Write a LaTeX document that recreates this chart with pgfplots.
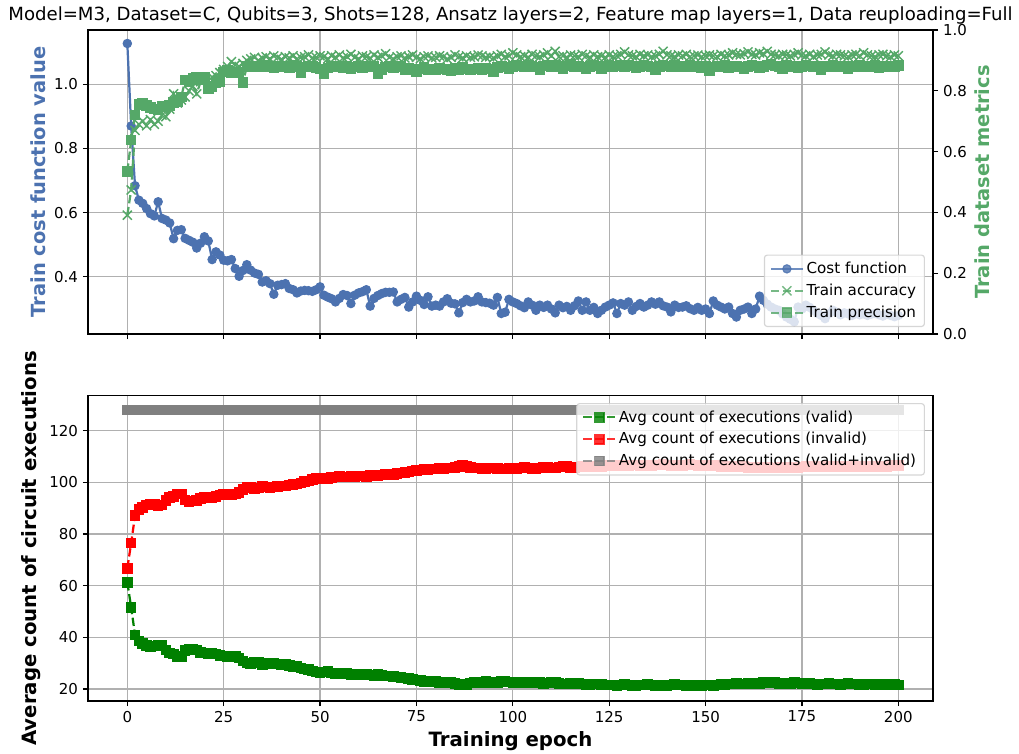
\documentclass[border=0pt]{standalone}
\usepackage{pgfplots}
\usepackage{pgfplotstable}
\pgfplotsset{compat=1.18}
\usepackage{fontspec}
\setmainfont{DejaVu Sans}
\definecolor{sbblue}{HTML}{4C72B0}
\definecolor{sbgreen}{HTML}{55A868}
\definecolor{mgreen}{HTML}{008000}
\definecolor{mred}{HTML}{FF0000}
\definecolor{mgray}{HTML}{808080}
\definecolor{gridc}{HTML}{B0B0B0}
\definecolor{legc}{HTML}{CCCCCC}

\pgfplotstableread{
ep cost acc prec valid invalid total
0 1.127 0.391 0.534 61.3 66.7 128
1 0.870 0.474 0.638 51.5 76.5 128
2 0.684 0.670 0.720 40.9 87.1 128
3 0.639 0.690 0.755 38.5 89.5 128
4 0.629 0.700 0.758 37.7 90.3 128
5 0.613 0.685 0.752 36.8 91.2 128
6 0.597 0.705 0.745 36.4 91.6 128
7 0.590 0.690 0.740 36.6 91.4 128
8 0.634 0.700 0.738 37.0 91.0 128
9 0.582 0.720 0.750 36.8 91.2 128
10 0.577 0.715 0.748 35.0 93.0 128
11 0.568 0.740 0.752 34.0 94.0 128
12 0.519 0.790 0.762 33.5 94.5 128
13 0.545 0.760 0.765 32.5 95.5 128
14 0.547 0.770 0.780 32.6 95.4 128
15 0.520 0.780 0.835 34.8 93.2 128
16 0.514 0.800 0.830 35.4 92.6 128
17 0.508 0.815 0.840 35.2 92.8 128
18 0.490 0.790 0.845 35.0 93.0 128
19 0.505 0.830 0.838 34.2 93.8 128
20 0.525 0.835 0.846 34.0 94.0 128
21 0.512 0.820 0.808 33.8 94.2 128
22 0.454 0.845 0.815 34.0 94.0 128
23 0.478 0.850 0.825 33.6 94.4 128
24 0.468 0.860 0.830 33.0 95.0 128
25 0.452 0.870 0.862 32.8 95.2 128
26 0.450 0.880 0.866 32.6 95.4 128
27 0.454 0.896 0.860 32.8 95.2 128
28 0.426 0.885 0.858 32.5 95.5 128
29 0.402 0.880 0.862 32.0 96.0 128
30 0.420 0.890 0.828 30.8 97.2 128
31 0.438 0.900 0.880 30.0 98.0 128
32 0.421 0.905 0.878 29.9 98.1 128
33 0.412 0.910 0.882 30.5 97.5 128
34 0.408 0.900 0.880 30.2 97.8 128
35 0.384 0.908 0.885 29.5 98.5 128
36 0.388 0.912 0.878 29.8 98.2 128
37 0.379 0.905 0.880 30.0 98.0 128
38 0.346 0.915 0.875 29.8 98.2 128
39 0.374 0.910 0.882 29.6 98.4 128
40 0.376 0.903 0.878 29.5 98.5 128
41 0.379 0.912 0.880 29.4 98.6 128
42 0.364 0.908 0.876 29.0 99.0 128
43 0.360 0.915 0.883 28.8 99.2 128
44 0.350 0.905 0.880 28.6 99.4 128
45 0.356 0.910 0.858 28.2 99.8 128
46 0.358 0.912 0.878 27.8 100.2 128
47 0.357 0.918 0.880 27.5 100.5 128
48 0.355 0.908 0.882 27.0 101.0 128
49 0.360 0.910 0.876 26.6 101.4 128
50 0.369 0.915 0.872 26.4 101.6 128
51 0.343 0.912 0.855 26.5 101.5 128
52 0.337 0.905 0.875 26.8 101.2 128
53 0.332 0.915 0.880 26.2 101.8 128
54 0.322 0.910 0.878 26.0 102.0 128
55 0.333 0.918 0.882 25.8 102.2 128
56 0.345 0.908 0.876 26.0 102.0 128
57 0.342 0.912 0.880 25.9 102.1 128
58 0.317 0.920 0.872 25.7 102.3 128
59 0.343 0.910 0.878 25.8 102.2 128
60 0.350 0.905 0.880 25.6 102.4 128
61 0.354 0.915 0.876 25.5 102.5 128
62 0.360 0.912 0.882 25.7 102.3 128
63 0.309 0.908 0.878 25.4 102.6 128
64 0.333 0.918 0.880 25.3 102.7 128
65 0.342 0.910 0.856 25.5 102.5 128
66 0.348 0.915 0.870 25.2 102.8 128
67 0.352 0.922 0.878 25.0 103.0 128
68 0.352 0.910 0.880 25.1 102.9 128
69 0.353 0.905 0.875 24.9 103.1 128
70 0.322 0.912 0.878 24.6 103.4 128
71 0.330 0.915 0.880 24.4 103.6 128
72 0.336 0.908 0.868 24.2 103.8 128
73 0.306 0.912 0.875 24.0 104.0 128
74 0.322 0.918 0.870 23.6 104.4 128
75 0.340 0.910 0.862 23.4 104.6 128
76 0.327 0.905 0.872 23.2 104.8 128
77 0.314 0.912 0.876 23.0 105.0 128
78 0.338 0.915 0.870 23.1 104.9 128
79 0.309 0.908 0.872 22.9 105.1 128
80 0.312 0.910 0.868 22.8 105.2 128
81 0.309 0.915 0.875 22.6 105.4 128
82 0.322 0.912 0.872 22.7 105.3 128
83 0.332 0.905 0.870 22.5 105.5 128
84 0.318 0.910 0.866 22.4 105.6 128
85 0.316 0.918 0.874 22.2 105.8 128
86 0.288 0.912 0.870 21.8 106.2 128
87 0.320 0.908 0.876 21.6 106.4 128
88 0.330 0.915 0.872 21.8 106.2 128
89 0.322 0.910 0.868 22.3 105.7 128
90 0.325 0.912 0.872 22.5 105.5 128
91 0.338 0.918 0.875 22.4 105.6 128
92 0.322 0.915 0.870 22.6 105.4 128
93 0.320 0.910 0.874 22.8 105.2 128
94 0.318 0.912 0.872 22.5 105.5 128
95 0.312 0.908 0.862 22.4 105.6 128
96 0.336 0.915 0.876 22.6 105.4 128
97 0.286 0.920 0.880 22.8 105.2 128
98 0.290 0.912 0.878 22.9 105.1 128
99 0.330 0.915 0.874 22.7 105.3 128
100 0.322 0.925 0.880 22.5 105.5 128
101 0.317 0.918 0.885 22.6 105.4 128
102 0.310 0.912 0.882 22.4 105.6 128
103 0.304 0.915 0.880 22.3 105.7 128
104 0.322 0.910 0.884 22.5 105.5 128
105 0.312 0.920 0.880 22.7 105.3 128
106 0.296 0.915 0.878 22.6 105.4 128
107 0.312 0.912 0.870 22.4 105.6 128
108 0.305 0.918 0.882 22.2 105.8 128
109 0.312 0.925 0.885 22.3 105.7 128
110 0.300 0.915 0.880 22.5 105.5 128
111 0.288 0.930 0.884 22.4 105.6 128
112 0.312 0.912 0.880 22.1 105.9 128
113 0.304 0.915 0.874 21.9 106.1 128
114 0.308 0.910 0.882 22.0 106.0 128
115 0.296 0.918 0.886 22.2 105.8 128
116 0.310 0.915 0.880 22.3 105.7 128
117 0.325 0.912 0.882 22.1 105.9 128
118 0.296 0.920 0.878 21.9 106.1 128
119 0.322 0.915 0.872 21.8 106.2 128
120 0.296 0.910 0.880 21.7 106.3 128
121 0.305 0.918 0.884 21.9 106.1 128
122 0.286 0.912 0.882 22.0 106.0 128
123 0.296 0.915 0.872 21.8 106.2 128
124 0.306 0.910 0.880 21.6 106.4 128
125 0.312 0.918 0.884 21.5 106.5 128
126 0.319 0.912 0.878 21.6 106.4 128
127 0.286 0.915 0.882 21.4 106.6 128
128 0.317 0.920 0.885 21.5 106.5 128
129 0.312 0.928 0.880 21.7 106.3 128
130 0.322 0.918 0.884 21.6 106.4 128
131 0.296 0.915 0.882 21.4 106.6 128
132 0.308 0.912 0.876 21.3 106.7 128
133 0.317 0.920 0.880 21.5 106.5 128
134 0.306 0.915 0.885 21.6 106.4 128
135 0.312 0.918 0.882 21.7 106.3 128
136 0.322 0.912 0.878 21.5 106.5 128
137 0.315 0.915 0.870 21.4 106.6 128
138 0.322 0.920 0.880 21.3 106.7 128
139 0.310 0.930 0.885 21.2 106.8 128
140 0.306 0.918 0.882 21.4 106.6 128
141 0.291 0.915 0.878 21.5 106.5 128
142 0.312 0.912 0.884 21.7 106.3 128
143 0.305 0.918 0.880 21.6 106.4 128
144 0.306 0.915 0.882 21.5 106.5 128
145 0.310 0.920 0.878 21.4 106.6 128
146 0.301 0.912 0.884 21.2 106.8 128
147 0.296 0.915 0.880 21.3 106.7 128
148 0.305 0.918 0.882 21.5 106.5 128
149 0.296 0.912 0.875 21.4 106.6 128
150 0.300 0.915 0.880 21.5 106.5 128
151 0.286 0.918 0.866 21.6 106.4 128
152 0.325 0.915 0.878 21.4 106.6 128
153 0.312 0.912 0.882 21.6 106.4 128
154 0.306 0.920 0.880 21.8 106.2 128
155 0.300 0.915 0.884 21.7 106.3 128
156 0.306 0.918 0.876 21.9 106.1 128
157 0.286 0.925 0.880 22.0 106.0 128
158 0.275 0.920 0.882 22.1 105.9 128
159 0.296 0.918 0.878 21.9 106.1 128
160 0.300 0.922 0.872 22.0 106.0 128
161 0.306 0.928 0.880 22.2 105.8 128
162 0.286 0.920 0.884 22.3 105.7 128
163 0.300 0.918 0.882 22.1 105.9 128
164 0.340 0.925 0.876 22.2 105.8 128
165 0.327 0.922 0.880 22.4 105.6 128
166 0.315 0.930 0.885 22.3 105.7 128
167 0.306 0.920 0.888 22.5 105.5 128
168 0.300 0.918 0.882 22.4 105.6 128
169 0.296 0.915 0.880 22.2 105.8 128
170 0.285 0.920 0.872 22.3 105.7 128
171 0.275 0.918 0.884 22.1 105.9 128
172 0.268 0.915 0.880 22.2 105.8 128
173 0.260 0.920 0.882 22.4 105.6 128
174 0.306 0.925 0.876 22.3 105.7 128
175 0.300 0.918 0.880 22.1 105.9 128
176 0.312 0.915 0.884 22.0 106.0 128
177 0.305 0.920 0.882 22.1 105.9 128
178 0.296 0.912 0.878 21.9 106.1 128
179 0.286 0.918 0.880 21.8 106.2 128
180 0.280 0.920 0.868 21.9 106.1 128
181 0.270 0.928 0.882 22.0 106.0 128
182 0.285 0.918 0.880 22.1 105.9 128
183 0.296 0.915 0.884 22.0 106.0 128
184 0.290 0.920 0.878 21.9 106.1 128
185 0.282 0.918 0.882 21.8 106.2 128
186 0.288 0.915 0.880 22.0 106.0 128
187 0.285 0.912 0.872 22.1 105.9 128
188 0.280 0.918 0.882 21.9 106.1 128
189 0.286 0.920 0.880 22.0 106.0 128
190 0.282 0.915 0.884 21.8 106.2 128
191 0.285 0.925 0.878 21.7 106.3 128
192 0.280 0.918 0.882 21.9 106.1 128
193 0.284 0.915 0.880 22.0 106.0 128
194 0.286 0.912 0.884 21.8 106.2 128
195 0.282 0.918 0.876 21.7 106.3 128
196 0.278 0.920 0.880 21.9 106.1 128
197 0.284 0.915 0.882 21.8 106.2 128
198 0.280 0.912 0.878 21.6 106.4 128
199 0.276 0.918 0.880 21.7 106.3 128
200 0.280 0.915 0.884 21.5 106.5 128
}\data

\pgfplotsset{
  base/.style={
    scale only axis, width=608.4pt,
    xmin=-10.2, xmax=209,
    xtick={0,25,...,200},
    tick align=outside, major tick length=3.7pt,
    tick style={black, line width=0.85pt},
    axis line style={black, line width=0.85pt},
    tick label style={font=\fontsize{10.8}{12}\selectfont},
    /pgf/number format/assume math mode=true,
    major grid style={gridc, line width=0.85pt},
    legend image code/.code={\draw[mark repeat=2,mark phase=2] plot coordinates {(0cm,0cm) (0.4cm,0cm) (0.8cm,0cm)};},
    legend cell align=left,
    legend style={font=\fontsize{10.9}{12}\selectfont, fill=white, fill opacity=0.8, draw opacity=0.8, text opacity=1, draw=legc, line width=0.85pt, rounded corners=2pt, row sep=2.0pt, inner xsep=4pt, inner ysep=3pt},
  },
  mdash/.style={dash pattern=on 6pt off 2.6pt},
}

\begin{document}
\begin{tikzpicture}
\useasboundingbox (0,0) rectangle (1019*0.72pt,-753*0.72pt);

% ---------- top panel, left axis ----------
\begin{axis}[base,
  at={(88*0.72pt,-30*0.72pt)}, anchor=north west, height=218.9pt,
  ymin=0.222, ymax=1.169,
  ytick={0.4,0.6,0.8,1.0},
  yticklabel style={/pgf/number format/.cd, fixed, fixed zerofill, precision=1},
  xticklabels={},
  xtick pos=bottom, ytick pos=left,
  grid=major,
  title={Model=M3, Dataset=C, Qubits=3, Shots=128, Ansatz layers=2, Feature map layers=1, Data reuploading=Full},
  title style={font=\fontsize{13.05}{14}\selectfont, at={(rel axis cs:0.5,1)}, anchor=base, yshift=1.2pt},
  ylabel={\textbf{Train cost function value}},
  ylabel style={font=\fontsize{14}{15}\selectfont, text=sbblue, at={(rel axis cs:-0.0592,0.5)}, anchor=center, rotate=0},
]
\addplot[sbblue, line width=1.6pt, mark=*, mark size=3.0pt, mark options={fill=sbblue, draw=sbblue, line width=0.8pt}] table[x=ep, y=cost] {\data};
\end{axis}

% ---------- top panel, right axis ----------
\begin{axis}[base,
  at={(88*0.72pt,-30*0.72pt)}, anchor=north west, height=218.9pt,
  ymin=0, ymax=1,
  hide x axis,
  axis y line*=right,
  ytick={0,0.2,0.4,0.6,0.8,1.0},
  yticklabel style={/pgf/number format/.cd, fixed, fixed zerofill, precision=1},
  ylabel={\textbf{Train dataset metrics}},
  ylabel style={font=\fontsize{14}{15}\selectfont, text=sbgreen, at={(rel axis cs:1.058,0.5)}, anchor=center, rotate=0},
  legend style={at={(rel axis cs:0.9905,0.023)}, anchor=south east},
]
\addlegendimage{sbblue, line width=1.6pt, mark=*, mark size=3.0pt, mark options={fill=sbblue, draw=sbblue, line width=0.8pt}}
\addlegendentry{Cost function}
\addplot[sbgreen, line width=1.6pt, mdash, mark=x, mark size=4.6pt, mark options={solid, line width=1.05pt}] table[x=ep, y=acc] {\data};
\addlegendentry{Train accuracy}
\addplot[sbgreen, line width=1.6pt, mdash, mark=square*, mark size=3.4pt, mark options={solid, fill=sbgreen, draw=sbgreen, line width=0.8pt}] table[x=ep, y=prec] {\data};
\addlegendentry{Train precision}
\end{axis}

% ---------- bottom panel ----------
\begin{axis}[base,
  at={(88*0.72pt,-395.7*0.72pt)}, anchor=north west, height=219.8pt,
  ymin=15.35, ymax=133.5,
  ytick={20,40,60,80,100,120},
  xtick pos=bottom, ytick pos=left,
  grid=major,
  xlabel={\textbf{Training epoch}},
  xlabel style={font=\fontsize{14.2}{15}\selectfont, at={(rel axis cs:0.5,-0.131)}, anchor=center},
  ylabel={\textbf{Average count of circuit executions}},
  ylabel style={font=\fontsize{14.2}{15}\selectfont, at={(rel axis cs:-0.0675,0.5)}, anchor=center, rotate=0},
  legend style={at={(rel axis cs:0.9905,0.976)}, anchor=north east},
]
\addplot[mgreen, line width=1.6pt, mdash, mark=square*, mark size=3.4pt, mark options={solid, fill=mgreen, draw=mgreen, line width=0.8pt}] table[x=ep, y=valid] {\data};
\addlegendentry{Avg count of executions (valid)}
\addplot[mred, line width=1.6pt, mdash, mark=square*, mark size=3.4pt, mark options={solid, fill=mred, draw=mred, line width=0.8pt}] table[x=ep, y=invalid] {\data};
\addlegendentry{Avg count of executions (invalid)}
\addplot[mgray, line width=1.6pt, mdash, mark=square*, mark size=3.4pt, mark options={solid, fill=mgray, draw=mgray, line width=0.8pt}] table[x=ep, y=total] {\data};
\addlegendentry{Avg count of executions (valid+invalid)}
\end{axis}
\end{tikzpicture}
\end{document}
